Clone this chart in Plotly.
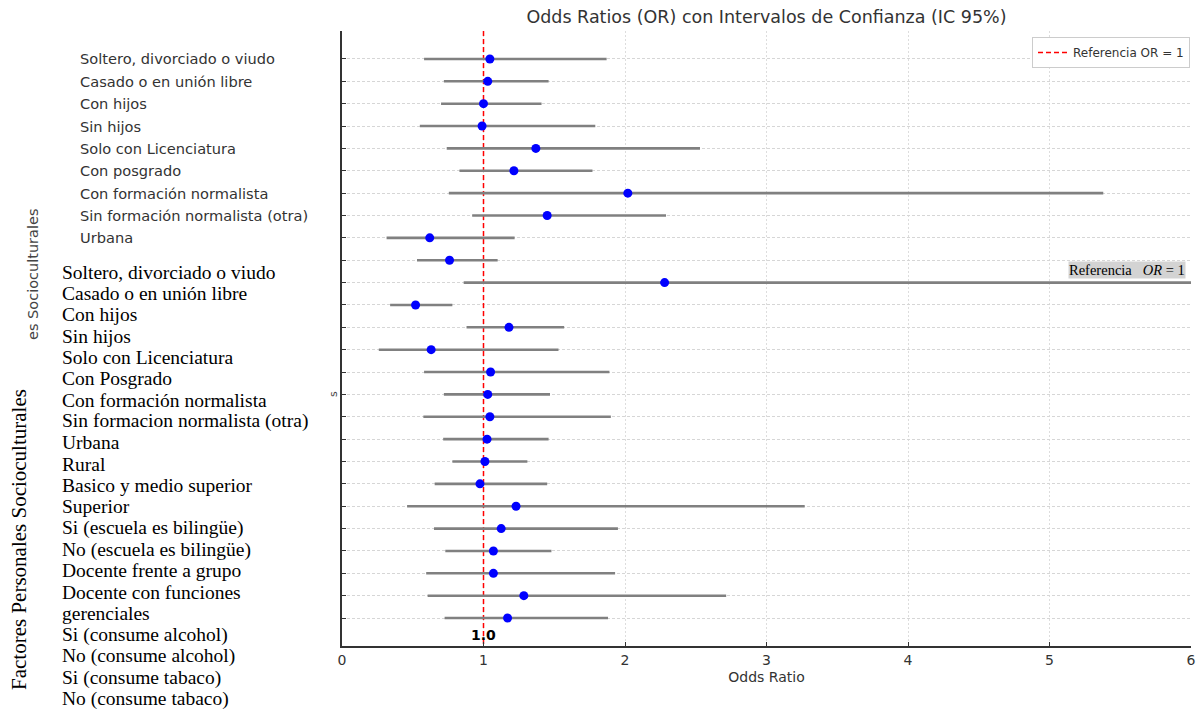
import plotly.graph_objects as go

# ---------------- data ----------------
row_labels_top = [
    "Soltero, divorciado o viudo",
    "Casado o en unión libre",
    "Con hijos",
    "Sin hijos",
    "Solo con Licenciatura",
    "Con posgrado",
    "Con formación normalista",
    "Sin formación normalista (otra)",
    "Urbana",
]

serif_labels = [
    "Soltero, divorciado o viudo",
    "Casado o en unión libre",
    "Con hijos",
    "Sin hijos",
    "Solo con Licenciatura",
    "Con Posgrado",
    "Con formación normalista",
    "Sin formacion normalista (otra)",
    "Urbana",
    "Rural",
    "Basico y medio superior",
    "Superior",
    "Si (escuela es bilingüe)",
    "No (escuela es bilingüe)",
    "Docente frente a grupo",
    "Docente con funciones",
    "gerenciales",
    "Si (consume alcohol)",
    "No (consume alcohol)",
    "Si (consume tabaco)",
    "No (consume tabaco)",
]

odds_ratio = [1.045, 1.03, 1.00, 0.99, 1.37, 1.215, 2.02, 1.45, 0.62, 0.76,
              2.28, 0.52, 1.18, 0.63, 1.05, 1.03, 1.045, 1.025, 1.01, 0.975,
              1.23, 1.125, 1.07, 1.07, 1.285, 1.17]
ci_low = [0.58, 0.72, 0.70, 0.55, 0.74, 0.83, 0.755, 0.92, 0.315, 0.53,
          0.86, 0.34, 0.88, 0.26, 0.58, 0.72, 0.575, 0.715, 0.78, 0.655,
          0.46, 0.65, 0.73, 0.595, 0.605, 0.725]
ci_high = [1.87, 1.46, 1.41, 1.79, 2.53, 1.77, 5.38, 2.29, 1.22, 1.10,
           6.6, 0.78, 1.57, 1.53, 1.89, 1.47, 1.90, 1.46, 1.31, 1.45,
           3.27, 1.95, 1.48, 1.93, 2.715, 1.88]

x_ticks = [0, 1, 2, 3, 4, 5, 6]
ref_value = 1.0

rows = list(range(len(odds_ratio)))

# ---------------- layout geometry ----------------
BODY = 8                      # default page body margin
W, H = 1204 - 2 * BODY, 710 - BODY
ML, MR, MT, MB = 342 - BODY, 5, 31 - BODY, 64
PW, PH = W - ML - MR, H - MT - MB


def px_x(p):
    return (p - BODY - ML) / PW


def px_y(p):
    return 1 - (p - BODY - MT) / PH


SANS = "DejaVu Sans"
SERIF = "Liberation Serif"
GREY = "#333333"

fig = go.Figure()

# reference line
fig.add_trace(go.Scatter(
    x=[ref_value, ref_value], y=[-1.25, len(rows) + 0.25],
    mode="lines", line=dict(color="red", width=1.5, dash="5px,3px"),
    name="Referencia OR = 1", showlegend=True, hoverinfo="skip",
))

# OR points with CI
fig.add_trace(go.Scatter(
    x=odds_ratio, y=rows, mode="markers",
    marker=dict(color="#0000ff", size=9, line=dict(width=0)),
    error_x=dict(type="data", symmetric=False,
                 array=[h - o for h, o in zip(ci_high, odds_ratio)],
                 arrayminus=[o - l for o, l in zip(odds_ratio, ci_low)],
                 color="#808080", thickness=2.6, width=0),
    showlegend=False,
))

annotations = []

# sans-serif row labels (top nine rows)
for i, lab in enumerate(row_labels_top):
    annotations.append(dict(
        text=lab, xref="paper", x=px_x(78), xanchor="left",
        yref="y", y=rows[i], yanchor="middle", showarrow=False,
        font=dict(family=SANS, size=14.6, color=GREY)))

# partially visible grey rotated axis title
annotations.append(dict(
    text="es Socioculturales", xref="paper", x=px_x(33), xanchor="center",
    yref="paper", y=px_y(275), yanchor="middle", textangle=-90,
    showarrow=False, font=dict(family=SANS, size=14.5, color="#444444")))

# small fragment near the axis
annotations.append(dict(
    text="s", xref="paper", x=px_x(333), xanchor="center",
    yref="paper", y=px_y(394), yanchor="middle", textangle=-90,
    showarrow=False, font=dict(family=SANS, size=11, color="#444444")))

# serif overlay labels
y0, step = 272, 21.35
for k, lab in enumerate(serif_labels):
    annotations.append(dict(
        text=lab, xref="paper", x=px_x(60), xanchor="left",
        yref="paper", y=px_y(y0 + k * step), yanchor="middle",
        showarrow=False, font=dict(family=SERIF, size=19.5, color="black")))

# serif rotated title
annotations.append(dict(
    text="Factores Personales Socioculturales", xref="paper", x=px_x(19),
    xanchor="center", yref="paper", y=px_y(540), yanchor="middle",
    textangle=-90, showarrow=False,
    font=dict(family=SERIF, size=21, color="black")))

# grey box reference label
annotations.append(dict(
    text="Referencia&nbsp;&nbsp;&nbsp;<i>OR</i> = 1", xref="paper",
    x=px_x(1186), xanchor="right", yref="paper", y=px_y(269.5),
    yanchor="middle", showarrow=False, bgcolor="#d3d3d3", borderpad=0,
    font=dict(family=SERIF, size=14.5, color="black")))

# bold 1.0 label
annotations.append(dict(
    text="<b>1.0</b>", xref="x", x=ref_value, xanchor="center",
    yref="paper", y=px_y(635), yanchor="middle", showarrow=False,
    font=dict(family=SANS, size=14, color="black")))

fig.update_layout(
    width=W, height=H, autosize=False,
    margin=dict(l=ML, r=MR, t=MT, b=MB, pad=0, autoexpand=False),
    paper_bgcolor="white", plot_bgcolor="white",
    title=dict(text="Odds Ratios (OR) con Intervalos de Confianza (IC 95%)",
               x=0.5, xref="paper", xanchor="center",
               y=1 - (17 - BODY) / H, yanchor="middle",
               font=dict(family=SANS, size=17.5, color=GREY)),
    xaxis=dict(range=[0, 6], tickvals=x_ticks, ticktext=[str(t) for t in x_ticks],
               automargin=False,
               ticks="inside", ticklen=4, tickcolor=GREY, tickwidth=1,
               showline=True, linecolor=GREY, linewidth=1.5, mirror=False,
               showgrid=True, gridcolor="#dddddd", gridwidth=1, griddash="2px,2px",
               zeroline=False,
               tickfont=dict(family=SANS, size=14, color=GREY),
               title=dict(text="Odds Ratio", standoff=6,
                          font=dict(family=SANS, size=14, color=GREY))),
    yaxis=dict(range=[len(rows) + 0.25, -1.25], tickvals=rows,
               automargin=False,
               showticklabels=False, ticks="inside", ticklen=4,
               tickcolor=GREY, tickwidth=1,
               showline=True, linecolor=GREY, linewidth=1.5,
               showgrid=True, gridcolor="#d6d6d6", gridwidth=1, griddash="3px,2px",
               zeroline=False),
    legend=dict(x=1 - 1 / PW, xanchor="right", y=px_y(37), yanchor="top",
                bgcolor="white", bordercolor="#cccccc", borderwidth=1,
                font=dict(family=SANS, size=12, color=GREY),
                itemwidth=30),
    annotations=annotations,
    showlegend=True,
)

fig.write_html("out.html")
